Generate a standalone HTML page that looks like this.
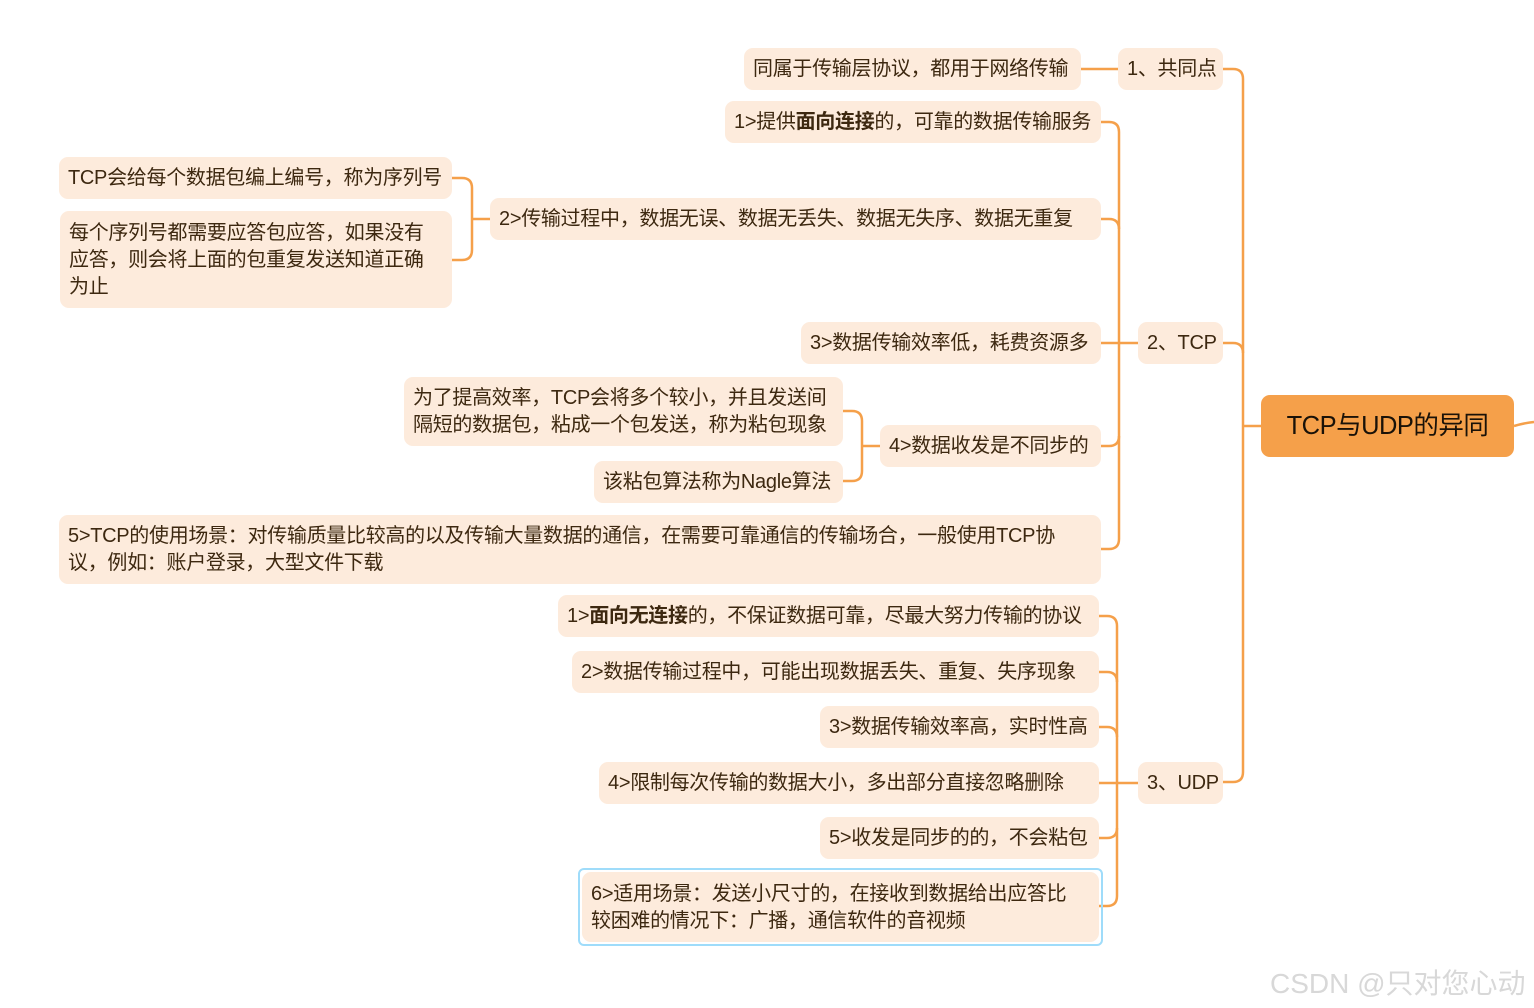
<!DOCTYPE html>
<html><head><meta charset="utf-8"><style>
body{margin:0;width:1534px;height:1008px;background:#fff;position:relative;overflow:hidden;font-family:"Liberation Sans","Noto Sans CJK SC",sans-serif;}
.n{position:absolute;background:#fdebdc;border-radius:9px;color:#3d2810;font-size:20px;line-height:27px;box-sizing:border-box;padding:8px 9px 7px;white-space:nowrap;letter-spacing:-0.3px;}
.c{text-align:center;}
b{font-weight:bold;}
svg{position:absolute;left:0;top:0;}
</style></head><body>
<svg width="1534" height="1008" fill="none" stroke="#f5a04a" stroke-width="2.5">
<path d="M1243,426 H1261"/>
<path d="M1514,426 Q1524,423 1534,422"/>
<path d="M1223,69 H1233 Q1243,69 1243,79 V772 Q1243,782 1233,782 H1223"/>
<path d="M1223,343 H1233 Q1243,343 1243,353"/>
<path d="M1081,69 H1118"/>
<path d="M1101,343 H1138"/>
<path d="M1101,122 H1109 Q1119,122 1119,132 V539 Q1119,549 1109,549 H1101"/>
<path d="M1101,219 H1109 Q1119,219 1119,229"/>
<path d="M1101,446 H1109 Q1119,446 1119,436"/>
<path d="M472,219 H490"/>
<path d="M452,178 H462 Q472,178 472,188 V250 Q472,260 462,260 H452"/>
<path d="M862,446 H880"/>
<path d="M843,411 H852 Q862,411 862,421 V471 Q862,481 852,481 H843"/>
<path d="M1099,783 H1138"/>
<path d="M1099,616 H1107 Q1117,616 1117,626 V896 Q1117,906 1107,906 H1099"/>
<path d="M1099,672 H1107 Q1117,672 1117,682"/>
<path d="M1099,727 H1107 Q1117,727 1117,737"/>
<path d="M1099,838 H1107 Q1117,838 1117,828"/>
</svg>

<div class="n c" style="left:1261px;top:395px;width:253px;height:62px;background:#f5a04a;color:#1a1208;font-size:25.5px;line-height:48px;padding-top:7px;letter-spacing:-0.5px;">TCP与UDP的异同</div>

<div class="n" style="left:1118px;top:48px;width:105px;height:42px;">1、共同点</div>
<div class="n" style="left:744px;top:48px;width:337px;height:42px;">同属于传输层协议，都用于网络传输</div>

<div class="n" style="left:1138px;top:322px;width:85px;height:42px;">2、TCP</div>
<div class="n" style="left:725px;top:101px;width:376px;height:42px;">1&gt;提供<b>面向连接</b>的，可靠的数据传输服务</div>
<div class="n" style="left:490px;top:198px;width:611px;height:42px;">2&gt;传输过程中，数据无误、数据无丢失、数据无失序、数据无重复</div>
<div class="n" style="left:59px;top:157px;width:393px;height:42px;">TCP会给每个数据包编上编号，称为序列号</div>
<div class="n" style="left:60px;top:211px;width:392px;height:97px;padding-top:9px;">每个序列号都需要应答包应答，如果没有<br>应答，则会将上面的包重复发送知道正确<br>为止</div>
<div class="n" style="left:801px;top:322px;width:300px;height:42px;">3&gt;数据传输效率低，耗费资源多</div>
<div class="n" style="left:404px;top:377px;width:439px;height:69px;">为了提高效率，TCP会将多个较小，并且发送间<br>隔短的数据包，粘成一个包发送，称为粘包现象</div>
<div class="n" style="left:594px;top:461px;width:249px;height:42px;">该粘包算法称为Nagle算法</div>
<div class="n" style="left:880px;top:425px;width:221px;height:42px;">4&gt;数据收发是不同步的</div>
<div class="n" style="left:59px;top:515px;width:1042px;height:69px;">5&gt;TCP的使用场景：对传输质量比较高的以及传输大量数据的通信，在需要可靠通信的传输场合，一般使用TCP协<br>议，例如：账户登录，大型文件下载</div>

<div class="n" style="left:1138px;top:762px;width:85px;height:42px;">3、UDP</div>
<div class="n" style="left:558px;top:595px;width:541px;height:42px;">1&gt;<b>面向无连接</b>的，不保证数据可靠，尽最大努力传输的协议</div>
<div class="n" style="left:572px;top:651px;width:527px;height:42px;">2&gt;数据传输过程中，可能出现数据丢失、重复、失序现象</div>
<div class="n" style="left:820px;top:706px;width:279px;height:42px;">3&gt;数据传输效率高，实时性高</div>
<div class="n" style="left:599px;top:762px;width:500px;height:42px;">4&gt;限制每次传输的数据大小，多出部分直接忽略删除</div>
<div class="n" style="left:820px;top:817px;width:279px;height:42px;">5&gt;收发是同步的的，不会粘包</div>
<div style="position:absolute;left:578px;top:868px;width:525px;height:78px;border:2px solid #9fdcfa;border-radius:6px;box-sizing:border-box;"></div>
<div class="n" style="left:582px;top:872px;width:517px;height:70px;padding-top:9px;">6&gt;适用场景：发送小尺寸的，在接收到数据给出应答比<br>较困难的情况下：广播，通信软件的音视频</div>

<div style="position:absolute;left:1270px;top:962px;font-size:28px;color:#d8d8d8;white-space:nowrap;">CSDN @只对您心动</div>
</body></html>
